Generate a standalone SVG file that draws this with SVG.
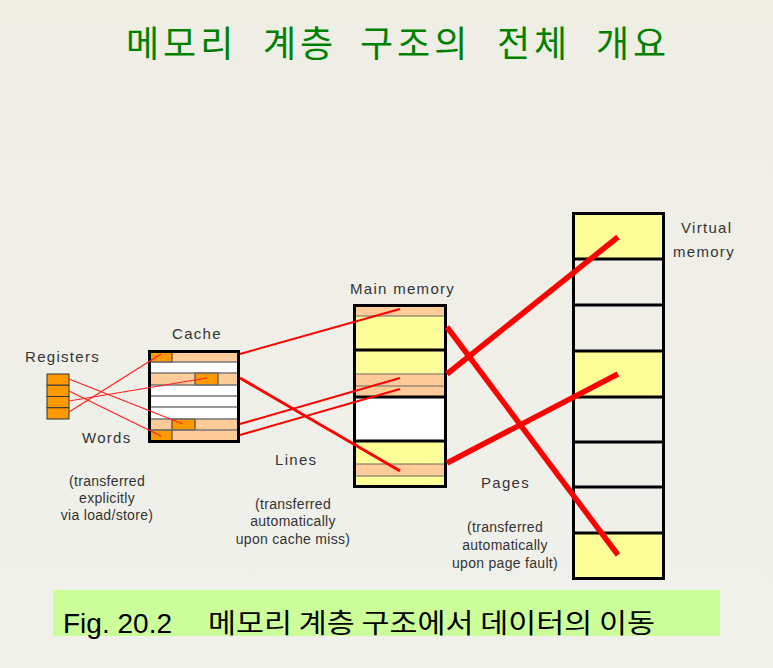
<svg xmlns="http://www.w3.org/2000/svg" width="773" height="668" viewBox="0 0 773 668">
<defs>
<linearGradient id="bg" x1="0" y1="0" x2="0" y2="1">
<stop offset="0" stop-color="#eeeee5"/>
<stop offset="1" stop-color="#f1f1ec"/>
</linearGradient>
</defs>
<style>
.lbl{font-family:"Liberation Sans","Noto Sans",Arial,sans-serif;font-size:15px;fill:#333;letter-spacing:1.3px}
.sub{font-family:"Liberation Sans","Noto Sans",Arial,sans-serif;font-size:14px;fill:#333;text-anchor:middle;letter-spacing:0.3px}
.ttl{font-family:"Noto Sans CJK KR","Noto Sans",sans-serif;font-size:36px;fill:#008000;letter-spacing:4px}
.cap{font-family:"Liberation Sans","Noto Sans CJK KR",sans-serif;font-size:27px;fill:#000}
.capk{font-family:"Noto Sans CJK KR",sans-serif;font-size:27px;fill:#000}
.yel{fill:#ffff99}
.sal{fill:#ffcc99}
.wht{fill:#ffffff}
.org{fill:#ff9900;stroke:#333;stroke-width:1}
.thin{stroke:#666;stroke-width:1.2}
.thick{stroke:#000;stroke-width:3}
.out{fill:none;stroke:#000;stroke-width:3}
.gry{stroke:#777;stroke-width:1.5}
.r1{stroke:#ff2020;stroke-width:1.2;fill:none}
.r2{stroke:#ff0000;stroke-width:2;fill:none}
.r3{stroke:#ff0000;stroke-width:3;fill:none}
.r5{stroke:#ff0000;stroke-width:5.5;fill:none}
</style>
<rect x="0" y="0" width="773" height="668" fill="url(#bg)"/>
<g id="title">
<text class="ttl" x="126" y="57">메모리</text>
<text class="ttl" x="263" y="57">계층</text>
<text class="ttl" x="360" y="57">구조의</text>
<text class="ttl" x="497" y="57">전체</text>
<text class="ttl" x="596" y="57">개요</text>
</g>

<g id="registers">
<rect class="org" x="47" y="374" width="22" height="11.25"/>
<rect class="org" x="47" y="385.25" width="22" height="11.25"/>
<rect class="org" x="47" y="396.5" width="22" height="11.25"/>
<rect class="org" x="47" y="407.75" width="22" height="11.25"/>
</g>

<g id="cache">
<rect class="sal" x="148" y="350" width="92" height="12"/>
<rect class="wht" x="148" y="362" width="92" height="11"/>
<rect class="sal" x="148" y="373" width="92" height="12"/>
<rect class="wht" x="148" y="385" width="92" height="34"/>
<rect class="sal" x="148" y="419" width="92" height="24"/>
<rect class="org" x="150" y="351" width="22" height="11"/>
<rect class="org" x="195" y="373" width="23" height="12"/>
<rect class="org" x="172" y="419" width="23" height="11"/>
<rect class="org" x="150" y="430" width="22" height="11.5"/>
<line class="gry" x1="148" y1="362" x2="240" y2="362"/>
<line class="gry" x1="148" y1="373" x2="240" y2="373"/>
<line class="gry" x1="148" y1="385" x2="240" y2="385"/>
<line class="gry" x1="148" y1="396" x2="240" y2="396"/>
<line class="gry" x1="148" y1="407" x2="240" y2="407"/>
<line class="gry" x1="148" y1="419" x2="240" y2="419"/>
<line class="gry" x1="148" y1="430" x2="240" y2="430"/>
<rect class="out" x="149.5" y="351.5" width="89" height="90"/>
</g>

<g id="main-memory">
<rect class="sal" x="353" y="304" width="94" height="12"/>
<rect class="yel" x="353" y="316" width="94" height="58"/>
<rect class="sal" x="353" y="374" width="94" height="23"/>
<rect class="wht" x="353" y="397" width="94" height="44"/>
<rect class="yel" x="353" y="441" width="94" height="23"/>
<rect class="sal" x="353" y="464" width="94" height="12"/>
<rect class="yel" x="353" y="476" width="94" height="12"/>
<line class="thin" x1="353" y1="316" x2="447" y2="316"/>
<line class="thin" x1="353" y1="374" x2="447" y2="374"/>
<line class="thin" x1="353" y1="386" x2="447" y2="386"/>
<line class="thin" x1="353" y1="464" x2="447" y2="464"/>
<line class="thin" x1="353" y1="476" x2="447" y2="476"/>
<line class="thick" x1="353" y1="350" x2="447" y2="350"/>
<line class="thick" x1="353" y1="397" x2="447" y2="397"/>
<line class="thick" x1="353" y1="441" x2="447" y2="441"/>
<rect class="out" x="354.5" y="305.5" width="91" height="181"/>
</g>

<g id="virtual-memory">
<rect class="yel" x="572" y="213" width="93" height="46"/>
<rect class="yel" x="572" y="351" width="93" height="46"/>
<rect class="yel" x="572" y="533" width="93" height="47"/>
<line class="thick" x1="572" y1="259" x2="665" y2="259"/>
<line class="thick" x1="572" y1="305" x2="665" y2="305"/>
<line class="thick" x1="572" y1="351" x2="665" y2="351"/>
<line class="thick" x1="572" y1="397" x2="665" y2="397"/>
<line class="thick" x1="572" y1="442" x2="665" y2="442"/>
<line class="thick" x1="572" y1="487" x2="665" y2="487"/>
<line class="thick" x1="572" y1="533" x2="665" y2="533"/>
<rect class="out" x="573.5" y="213.5" width="90" height="365"/>
</g>

<g id="connectors">
<line class="r1" x1="69" y1="379" x2="183" y2="424"/>
<line class="r1" x1="69" y1="391" x2="161" y2="436"/>
<line class="r1" x1="69" y1="401" x2="207" y2="378"/>
<line class="r1" x1="69" y1="412" x2="161" y2="354"/>
<line class="r2" x1="240" y1="354" x2="400" y2="309"/>
<line class="r3" x1="240" y1="378" x2="400" y2="471"/>
<line class="r2" x1="240" y1="424" x2="400" y2="378"/>
<line class="r2" x1="240" y1="435" x2="400" y2="389"/>
<line class="r5" x1="447" y1="374" x2="618" y2="237"/>
<line class="r5" x1="447" y1="463" x2="618" y2="374"/>
<line class="r5" x1="447" y1="327" x2="618" y2="555"/>
</g>

<g id="labels">
<text class="lbl" x="25" y="362">Registers</text>
<text class="lbl" x="82" y="443">Words</text>
<text class="lbl" x="172" y="339">Cache</text>
<text class="lbl" x="350" y="294">Main memory</text>
<text class="lbl" x="681" y="233">Virtual</text>
<text class="lbl" x="673" y="257">memory</text>
<text class="lbl" x="275" y="465">Lines</text>
<text class="lbl" x="481" y="488">Pages</text>
<text class="sub" x="107" y="486">(transferred</text>
<text class="sub" x="107" y="503">explicitly</text>
<text class="sub" x="107" y="520">via load/store)</text>
<text class="sub" x="293" y="509">(transferred</text>
<text class="sub" x="293" y="526">automatically</text>
<text class="sub" x="293" y="544">upon cache miss)</text>
<text class="sub" x="505" y="532">(transferred</text>
<text class="sub" x="505" y="550">automatically</text>
<text class="sub" x="505" y="568">upon page fault)</text>
</g>

<g id="caption">
<rect x="53" y="590" width="667" height="46" fill="#ccff99"/>
<text class="cap" x="63" y="633" textLength="109" lengthAdjust="spacingAndGlyphs">Fig. 20.2</text>
<text class="capk" x="208" y="633" textLength="447" lengthAdjust="spacingAndGlyphs">메모리 계층 구조에서 데이터의 이동</text>
</g>
</svg>
